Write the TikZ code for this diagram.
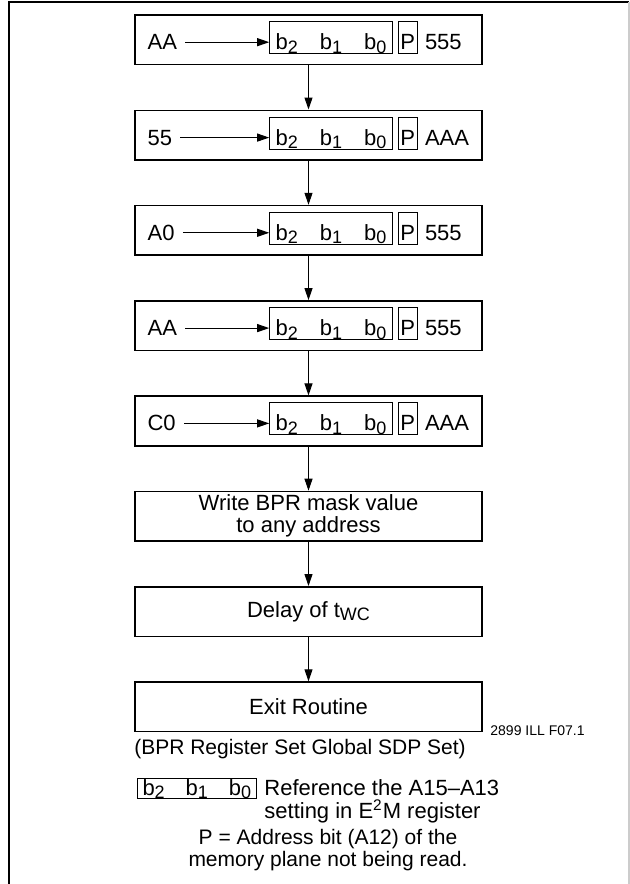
\documentclass[tikz,border=0pt]{standalone}
\usepackage{fontspec}
\setmainfont{Liberation Sans}
\usetikzlibrary{arrows.meta,positioning}

\newcommand{\lowidx}[1]{\raisebox{-1.8pt}{\fontsize{9}{9}\selectfont #1}}

\tikzset{
  stepbox/.style={draw, line width=0.8pt, minimum width=173.5pt, minimum height=24.75pt, inner sep=0pt, align=center},
  bitbox/.style={draw, line width=0.5pt, inner xsep=3pt, inner ysep=0pt, text height=14pt, text depth=2pt},
  pbox/.style={bitbox, inner xsep=1pt},
  flow/.style={-{Triangle[length=6pt,width=4pt]}, line width=0.5pt},
  plain/.style={inner sep=0pt},
  caption/.style={inner sep=0pt, font=\fontsize{10.5}{9.5}\selectfont},
}

\begin{document}
\begin{tikzpicture}[x=0.5pt, y=-0.5pt, node distance=47.65pt, on grid, font=\fontsize{11}{12}\selectfont]
   \useasboundingbox (0,0) rectangle (630,884);
   % frame, open at the bottom
   \draw[line width=1pt] (8.5,884) -- (8.5,2) -- (629,2);
   \draw[gray!40, line width=0.6pt] (629,2) -- (629,884);

   \node[stepbox] (s1) at (308.5,39.75) {};
   \node[stepbox] (s2) [below=of s1] {};
   \node[stepbox] (s3) [below=of s2] {};
   \node[stepbox] (s4) [below=of s3] {};
   \node[stepbox] (s5) [below=of s4] {};
   \node[stepbox, font=\fontsize{11}{11}\selectfont] (s6) [below=of s5] {Write BPR mask value\\to any address};
   \node[stepbox] (s7) [below=of s6] {Delay of t\lowidx{WC}};
   \node[stepbox] (s8) [below=of s7] {Exit Routine};

   % data written in the first five cycles
   \foreach \i/\lab/\adr in {1/AA/555, 2/55/AAA, 3/A0/555, 4/AA/555, 5/C0/AAA} {
     \node[plain, anchor=base west] (lab\i) at ([xshift=6.5pt,yshift=-5pt]s\i.west) {\lab};
     \node[bitbox, anchor=base west] (bits\i) at ([xshift=67.5pt,yshift=-5pt]s\i.west)
       {b\lowidx{2}\hspace{11pt}b\lowidx{1}\hspace{11pt}b\lowidx{0}};
     \node[pbox, anchor=base west] (p\i) at ([xshift=2.5pt]bits\i.base east) {P};
     \node[plain, anchor=base west] (adr\i) at ([xshift=3.5pt]p\i.base east) {\adr};
     \draw[flow, shorten <=4pt] (lab\i.east) -- (lab\i.east -| bits\i.west);
   }

   \foreach \i [evaluate=\i as \j using int(\i+1)] in {1,...,7}
     \draw[flow] (s\i) -- (s\j);

   \node[plain, anchor=base west, font=\fontsize{7}{7}\selectfont] (figid) at (490,735) {2899 ILL F07.1};
   \node[caption, anchor=base] (title) at (300,754) {(BPR Register Set Global SDP Set)};

   % legend
   \node[bitbox, inner xsep=2.5pt, text height=8.3pt, text depth=1.5pt, anchor=base west] (key) at (137,795)
     {b\lowidx{2}\hspace{10.5pt}b\lowidx{1}\hspace{10.5pt}b\lowidx{0}};
   \node[caption, font=\fontsize{11}{11.5}\selectfont, anchor=north west, align=left] (keytxt) at (264,779)
     {Reference the A15--A13\\setting in E\textsuperscript{2}M register};
   \node[caption, anchor=north, align=center] (pnote) at (328,829)
     {P = Address bit (A12) of the\\memory plane not being read.};
\end{tikzpicture}
\end{document}
